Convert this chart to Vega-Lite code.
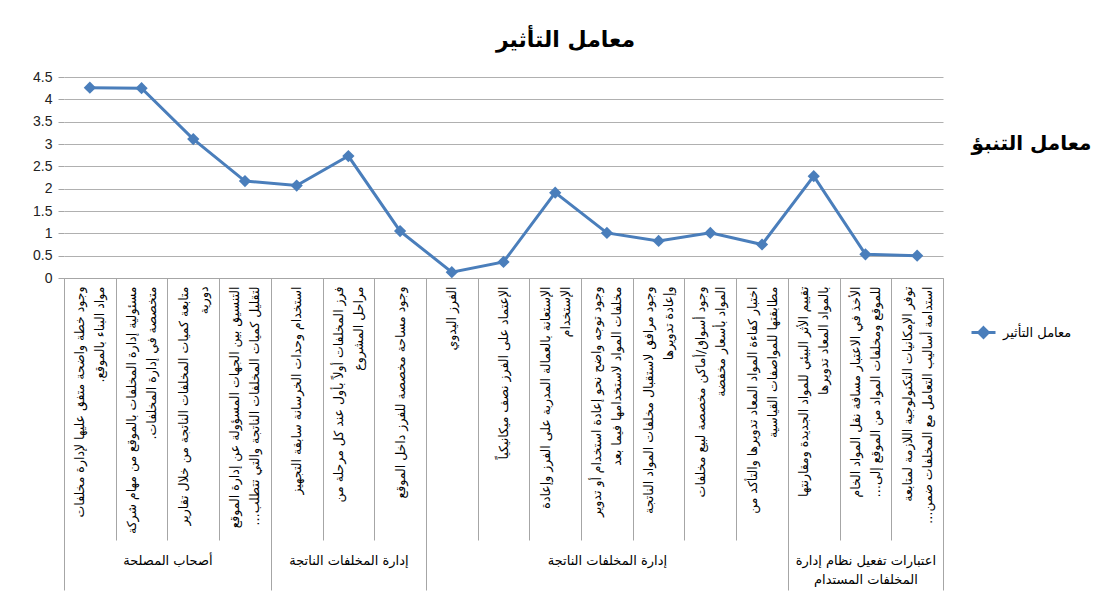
{
  "$schema": "https://vega.github.io/schema/vega-lite/v6.json",
  "width": 879,
  "height": 201,
  "autosize": {"type": "none"},
  "padding": {"left": 64, "top": 77, "right": 158, "bottom": 317},
  "background": "white",
  "title": {"text": "معامل التأثير", "fontSize": 22, "font": "DejaVu Sans", "fontWeight": "bold", "anchor": "middle", "dx": 62, "offset": 18, "color": "black"},
  "config": {"view": {"stroke": null}},
  "datasets": {
    "items": [
      {"item": "وجود خطة واضحة متفق عليها لإدارة مخلفات\nمواد البناء بالموقع.‏", "value": 4.26, "series": "معامل التأثير"},
      {"item": "مسئولية إدارة المخلفات بالموقع من مهام شركة\nمتخصصة في إدارة المخلفات.‏", "value": 4.25, "series": "معامل التأثير"},
      {"item": "متابعة كميات المخلفات الناتجة من خلال تقارير\nدورية", "value": 3.11, "series": "معامل التأثير"},
      {"item": "التنسيق بين الجهات المسؤولة عن إدارة الموقع\nلتقليل كميات المخلفات الناتجة والتي تتطلب…‏", "value": 2.17, "series": "معامل التأثير"},
      {"item": "استخدام وحدات الخرسانة سابقة التجهيز", "value": 2.07, "series": "معامل التأثير"},
      {"item": "فرز المخلفات أولاً بأول عند كل مرحلة من\nمراحل المشروع", "value": 2.73, "series": "معامل التأثير"},
      {"item": "وجود مساحة مخصصة للفرز داخل الموقع", "value": 1.05, "series": "معامل التأثير"},
      {"item": "الفرز اليدوي", "value": 0.13, "series": "معامل التأثير"},
      {"item": "الإعتماد على الفرز نصف ميكانيكياً", "value": 0.36, "series": "معامل التأثير"},
      {"item": "الإستعانة بالعمالة المدربة على الفرز وإعادة\nالإستخدام", "value": 1.91, "series": "معامل التأثير"},
      {"item": "وجود توجه واضح نحو إعادة استخدام أو تدوير\nمخلفات المواد لاستخدامها فيما بعد", "value": 1.01, "series": "معامل التأثير"},
      {"item": "وجود مرافق لاستقبال مخلفات المواد الناتجة\nوإعادة تدويرها", "value": 0.83, "series": "معامل التأثير"},
      {"item": "وجود أسواق/أماكن مخصصة لبيع مخلفات\nالمواد بأسعار مخفضة", "value": 1.01, "series": "معامل التأثير"},
      {"item": "اختبار كفاءة المواد المعاد تدويرها والتأكد من\nمطابقتها للمواصفات القياسية", "value": 0.75, "series": "معامل التأثير"},
      {"item": "تقييم الأثر البيئي للمواد الجديدة ومقارنتها\nبالمواد المعاد تدويرها", "value": 2.28, "series": "معامل التأثير"},
      {"item": "الأخذ في الاعتبار مسافة نقل المواد الخام\nللموقع ومخلفات المواد من الموقع إلى…‏", "value": 0.53, "series": "معامل التأثير"},
      {"item": "توفر الإمكانيات التكنولوجية اللازمة لمتابعة\nاستدامة أساليب التعامل مع المخلفات ضمن…‏", "value": 0.50, "series": "معامل التأثير"}
    ],
    "groups": [
      {"group": "أصحاب المصلحة", "start": 0, "end": 4},
      {"group": "إدارة المخلفات الناتجة", "start": 4, "end": 7},
      {"group": "إدارة المخلفات الناتجة", "start": 7, "end": 14},
      {"group": "اعتبارات تفعيل نظام إدارة المخلفات المستدام", "start": 14, "end": 17}
    ]
  },
  "layer": [
    {
      "data": {"name": "items"},
      "encoding": {
        "x": {
          "field": "item", "type": "nominal", "sort": null,
          "scale": {"paddingInner": 0, "paddingOuter": 0},
          "axis": {
            "title": null, "labelAngle": -90, "labelAlign": "right", "labelBaseline": "middle",
            "labelExpr": "indexof(datum.label, '\\n') >= 0 ? [split(datum.label, '\\n')[0], '\u2800', split(datum.label, '\\n')[1]] : ['\u2800', datum.label]",
            "labelOffset": -10,
            "labelFont": "DejaVu Sans", "labelFontSize": 12.5, "labelLineHeight": 10,
            "labelPadding": -254, "labelLimit": 0, "labelOverlap": false, "labelColor": "black",
            "tickBand": "extent", "tickSize": 262, "tickColor": "#a6a6a6",
            "domainColor": "#a6a6a6", "grid": false
          }
        },
        "y": {
          "field": "value", "type": "quantitative",
          "scale": {"domain": [0, 4.5], "nice": false},
          "axis": {
            "title": null, "values": [0, 0.5, 1, 1.5, 2, 2.5, 3, 3.5, 4, 4.5], "format": "~g",
            "labelFont": "Liberation Sans", "labelFontSize": 14, "labelColor": "#222222", "labelPadding": 6,
            "tickSize": 6, "tickColor": "#a6a6a6", "domain": false,
            "grid": true, "gridColor": "#b0b0b0", "gridWidth": 1
          }
        },
        "color": {
          "field": "series", "type": "nominal",
          "scale": {"range": ["#4a7ebb"]},
          "legend": {
            "title": null, "orient": "none", "legendX": 906, "legendY": 242, "padding": 0,
            "symbolType": "M-1,0H1M0,-0.4L0.4,0L0,0.4L-0.4,0Z", "symbolSize": 576,
            "symbolStrokeWidth": 3, "labelFont": "DejaVu Sans", "labelFontSize": 13, "labelColor": "black", "labelOffset": 6,
            "encode": {"symbols": {"update": {"fill": {"value": "#4a7ebb"}, "stroke": {"value": "#4a7ebb"}, "strokeWidth": {"value": 3}, "opacity": {"value": 1}}}}
          }
        }
      },
      "layer": [
        {"mark": {"type": "line", "strokeWidth": 3}},
        {"mark": {"type": "point", "shape": "diamond", "filled": true, "size": 150, "opacity": 1}}
      ]
    },
    {
      "data": {"name": "groups"},
      "mark": {"type": "point", "opacity": 0},
      "encoding": {
        "x": {
          "field": "start", "type": "quantitative",
          "scale": {"domain": [0, 17], "nice": false, "zero": false},
          "axis": {"orient": "bottom", "title": null, "values": [0, 4, 7, 14, 17], "labels": false, "domain": false, "grid": false, "tickSize": 312, "tickColor": "#a6a6a6"}
        },
        "y": {
          "field": "start", "type": "quantitative",
          "scale": {"domain": [0, 17]},
          "axis": {"orient": "right", "labels": false, "ticks": false, "domain": false, "grid": false,
            "title": "معامل التنبؤ", "titleAngle": 0, "titleFont": "DejaVu Sans", "titleFontSize": 20, "titleFontWeight": "bold", "titleColor": "black",
            "titleX": 88, "titleY": 66, "titleAlign": "center", "titleBaseline": "middle"}
        }
      }
    },
    {
      "data": {"name": "groups"},
      "mark": {"type": "point", "opacity": 0},
      "encoding": {
        "x": {
          "field": "end", "type": "quantitative",
          "scale": {"domain": [0, 17], "nice": false, "zero": false},
          "axis": {"orient": "bottom", "offset": 262, "title": null, "values": [2, 5.5, 10.5, 15.5],
            "ticks": false, "domain": false, "grid": false, "labelFlush": false, "labelOverlap": false, "labelLimit": 0,
            "labelFont": "DejaVu Sans", "labelFontSize": 13, "labelColor": "black", "labelPadding": 14, "labelBaseline": "top", "labelLineHeight": 19,
            "labelExpr": "datum.value == 2 ? 'أصحاب المصلحة' : (datum.value == 15.5 ? ['اعتبارات تفعيل نظام إدارة', 'المخلفات المستدام'] : 'إدارة المخلفات الناتجة')"}
        }
      }
    }
  ],
  "resolve": {"scale": {"x": "independent", "y": "independent"}}
}
